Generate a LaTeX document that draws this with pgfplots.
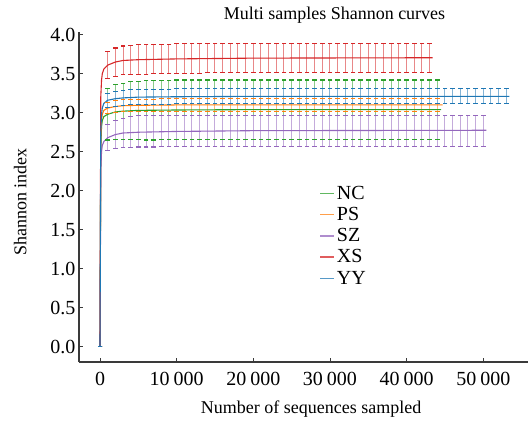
\documentclass[border=0pt]{standalone}
\usepackage{pgfplots}
\usepackage{pgfplotstable}
\pgfplotsset{compat=1.18}
\usepackage{fontspec}
\setmainfont{Liberation Serif}

\definecolor{cNC}{HTML}{2CA02C}
\definecolor{cPS}{HTML}{FF7F0E}
\definecolor{cSZ}{HTML}{9467BD}
\definecolor{cXS}{HTML}{D62728}
\definecolor{cYY}{HTML}{1F77B4}
\definecolor{axisgray}{HTML}{3A3A3A}

% curve values (x = sequences sampled)
\pgfplotstableread{
x y
0 0
100 2.55
200 2.82
300 2.90
500 2.95
1000 2.98
2000 3.01
3000 3.02
5000 3.03
10000 3.035
20000 3.04
44500 3.04
}\curveNC
\pgfplotstableread{
x y
0 0
100 2.65
200 2.90
300 2.98
500 3.03
1000 3.06
2000 3.08
3000 3.09
5000 3.095
10000 3.10
44700 3.10
}\curvePS
\pgfplotstableread{
x y
0 0
100 2.25
200 2.50
300 2.58
500 2.63
1000 2.68
2000 2.72
3000 2.74
5000 2.75
10000 2.76
20000 2.77
50400 2.775
}\curveSZ
\pgfplotstableread{
x y
0 0
100 3.20
200 3.42
300 3.50
500 3.56
1000 3.61
2000 3.65
3000 3.67
5000 3.68
10000 3.69
20000 3.70
43400 3.705
}\curveXS
\pgfplotstableread{
x y
0 0
100 2.75
200 2.98
300 3.06
500 3.12
1000 3.16
2000 3.18
3000 3.19
5000 3.20
10000 3.205
20000 3.21
53400 3.21
}\curveYY

% mean and error at every 1000 sequences
\pgfplotstableread{
x NC NCe PS PSe SZ SZe XS XSe YY YYe
0 0 0 0 0 0 0 0 0 0 0
1000 2.98 0.33 3.06 0.07 2.68 0.17 3.61 0.17 3.16 0.09
2000 3.01 0.35 3.08 0.075 2.72 0.18 3.65 0.18 3.18 0.095
3000 3.02 0.36 3.09 0.08 2.74 0.19 3.67 0.185 3.19 0.095
4000 3.025 0.37 3.095 0.08 2.75 0.20 3.675 0.19 3.20 0.095
5000 3.03 0.37 3.095 0.08 2.76 0.20 3.685 0.19 3.20 0.095
6000 3.03 0.38 3.095 0.08 2.76 0.20 3.685 0.19 3.20 0.095
7000 3.03 0.38 3.095 0.08 2.76 0.20 3.69 0.19 3.20 0.095
8000 3.035 0.38 3.10 0.08 2.765 0.20 3.69 0.19 3.205 0.095
9000 3.035 0.38 3.10 0.08 2.765 0.20 3.69 0.19 3.205 0.095
10000 3.04 0.38 3.10 0.08 2.77 0.20 3.695 0.19 3.21 0.095
11000 3.04 0.38 3.10 0.08 2.77 0.20 3.695 0.19 3.21 0.095
12000 3.04 0.38 3.10 0.08 2.77 0.20 3.695 0.19 3.21 0.095
13000 3.04 0.38 3.10 0.08 2.77 0.20 3.695 0.19 3.21 0.095
14000 3.04 0.38 3.10 0.08 2.77 0.20 3.70 0.19 3.21 0.095
15000 3.04 0.38 3.10 0.08 2.77 0.20 3.70 0.19 3.21 0.095
16000 3.04 0.38 3.10 0.08 2.77 0.20 3.70 0.19 3.21 0.095
17000 3.04 0.38 3.10 0.08 2.77 0.20 3.70 0.19 3.21 0.095
18000 3.04 0.38 3.10 0.08 2.77 0.20 3.70 0.19 3.21 0.095
19000 3.04 0.38 3.10 0.08 2.77 0.20 3.70 0.19 3.21 0.095
20000 3.04 0.38 3.10 0.08 2.77 0.20 3.70 0.19 3.21 0.095
21000 3.04 0.38 3.10 0.08 2.77 0.20 3.70 0.19 3.21 0.095
22000 3.04 0.38 3.10 0.08 2.77 0.20 3.70 0.19 3.21 0.095
23000 3.04 0.38 3.10 0.08 2.77 0.20 3.70 0.19 3.21 0.095
24000 3.04 0.38 3.10 0.08 2.77 0.20 3.70 0.19 3.21 0.095
25000 3.04 0.38 3.10 0.08 2.77 0.20 3.70 0.19 3.21 0.095
26000 3.04 0.38 3.10 0.08 2.77 0.20 3.70 0.19 3.21 0.095
27000 3.04 0.38 3.10 0.08 2.77 0.20 3.70 0.19 3.21 0.095
28000 3.04 0.38 3.10 0.08 2.77 0.20 3.70 0.19 3.21 0.095
29000 3.04 0.38 3.10 0.08 2.77 0.20 3.70 0.19 3.21 0.095
30000 3.04 0.38 3.10 0.08 2.77 0.20 3.70 0.19 3.21 0.095
31000 3.04 0.38 3.10 0.08 2.77 0.20 3.70 0.19 3.21 0.095
32000 3.04 0.38 3.10 0.08 2.77 0.20 3.70 0.19 3.21 0.095
33000 3.04 0.38 3.10 0.08 2.77 0.20 3.70 0.19 3.21 0.095
34000 3.04 0.38 3.10 0.08 2.77 0.20 3.70 0.19 3.21 0.095
35000 3.04 0.38 3.10 0.08 2.77 0.20 3.70 0.19 3.21 0.095
36000 3.04 0.38 3.10 0.08 2.77 0.20 3.70 0.19 3.21 0.095
37000 3.04 0.38 3.10 0.08 2.77 0.20 3.70 0.19 3.21 0.095
38000 3.04 0.38 3.10 0.08 2.77 0.20 3.70 0.19 3.21 0.095
39000 3.04 0.38 3.10 0.08 2.77 0.20 3.70 0.19 3.21 0.095
40000 3.04 0.38 3.10 0.08 2.77 0.20 3.70 0.19 3.21 0.095
41000 3.04 0.38 3.10 0.08 2.77 0.20 3.70 0.19 3.21 0.095
42000 3.04 0.38 3.10 0.08 2.77 0.20 3.70 0.19 3.21 0.095
43000 3.04 0.38 3.10 0.08 2.77 0.20 3.70 0.19 3.21 0.095
44000 3.04 0.38 3.10 0.08 2.77 0.20 nan nan 3.21 0.095
45000 nan nan nan nan 2.77 0.20 nan nan 3.21 0.095
46000 nan nan nan nan 2.77 0.20 nan nan 3.21 0.095
47000 nan nan nan nan 2.77 0.20 nan nan 3.21 0.095
48000 nan nan nan nan 2.77 0.20 nan nan 3.21 0.095
49000 nan nan nan nan 2.77 0.20 nan nan 3.21 0.095
50000 nan nan nan nan 2.77 0.20 nan nan 3.21 0.095
51000 nan nan nan nan nan nan nan nan 3.21 0.095
52000 nan nan nan nan nan nan nan nan 3.21 0.095
53000 nan nan nan nan nan nan nan nan 3.21 0.095
}\errtab

\pgfplotsset{
  errs/.style={forget plot, color=#1, draw=none, mark=none,
    error bars/.cd, y dir=both, y explicit, error mark=none,
    error bar style={draw=#1!55!white, line width=1pt}},
  caps/.style={forget plot, only marks, mark=-, mark size=2.3pt,
    mark options={draw=#1, fill=#1, line width=1.1pt}},
  curve/.style={draw=#1, line width=1.1pt, mark=none},
}

\begin{document}
\begin{tikzpicture}
\begin{axis}[
  at={(0pt,0pt)}, anchor=south west,
  scale only axis, width=449pt, height=330pt,
  xmin=-2740, xmax=55830, ymin=-0.196, ymax=4.035,
  axis x line*=bottom, axis y line*=left,
  axis line style={draw=axisgray, line width=1.2pt},
  tick align=inside, major tick length=4pt,
  tick style={draw=axisgray, line width=0.8pt},
  xtick={0,10000,20000,30000,40000,50000},
  ytick={0,0.5,1,1.5,2,2.5,3,3.5,4},
  scaled x ticks=false,
  /pgf/number format/assume math mode=true,
  xticklabel style={/pgf/number format/1000 sep={\hspace{0.2em}}, yshift=-7pt},
  yticklabel style={/pgf/number format/fixed, /pgf/number format/fixed zerofill, /pgf/number format/precision=1},
  ticklabel style={font=\fontsize{20}{20}\selectfont},
  xlabel={Number of sequences sampled},
  ylabel={Shannon index},
  every axis x label/.style={at={(axis description cs:0.517,-0.142)}, anchor=center,
    font=\fontsize{18}{18}\selectfont},
  every axis y label/.style={at={(axis description cs:-0.131,0.485)}, rotate=90, anchor=center,
    font=\fontsize{18}{18}\selectfont},
  legend style={at={(0.535,0.54)}, anchor=north west, draw=none, fill=none,
    font=\fontsize{20}{20}\selectfont, row sep=2.5pt, inner sep=0pt},
  legend cell align=left,
  clip=false,
]
\addplot[errs=cNC] table[x=x, y=NC, y error=NCe] {\errtab};
\addplot[caps=cNC] table[x=x, y expr=\thisrow{NC}+\thisrow{NCe}] {\errtab};
\addplot[caps=cNC] table[x=x, y expr=\thisrow{NC}-\thisrow{NCe}] {\errtab};
\addplot[errs=cPS] table[x=x, y=PS, y error=PSe] {\errtab};
\addplot[caps=cPS] table[x=x, y expr=\thisrow{PS}+\thisrow{PSe}] {\errtab};
\addplot[caps=cPS] table[x=x, y expr=\thisrow{PS}-\thisrow{PSe}] {\errtab};
\addplot[errs=cSZ] table[x=x, y=SZ, y error=SZe] {\errtab};
\addplot[caps=cSZ] table[x=x, y expr=\thisrow{SZ}+\thisrow{SZe}] {\errtab};
\addplot[caps=cSZ] table[x=x, y expr=\thisrow{SZ}-\thisrow{SZe}] {\errtab};
\addplot[errs=cXS] table[x=x, y=XS, y error=XSe] {\errtab};
\addplot[caps=cXS] table[x=x, y expr=\thisrow{XS}+\thisrow{XSe}] {\errtab};
\addplot[caps=cXS] table[x=x, y expr=\thisrow{XS}-\thisrow{XSe}] {\errtab};
\addplot[errs=cYY] table[x=x, y=YY, y error=YYe] {\errtab};
\addplot[caps=cYY] table[x=x, y expr=\thisrow{YY}+\thisrow{YYe}] {\errtab};
\addplot[caps=cYY] table[x=x, y expr=\thisrow{YY}-\thisrow{YYe}] {\errtab};

\addplot[curve=cNC, forget plot] table {\curveNC};
\addplot[curve=cPS, forget plot] table {\curvePS};
\addplot[curve=cSZ, forget plot] table {\curveSZ};
\addplot[curve=cXS, forget plot] table {\curveXS};
\addplot[curve=cYY, forget plot] table {\curveYY};

\addlegendimage{legend image code/.code={\draw[cNC!75!white, line width=1.5pt] (0pt,0pt) -- (14pt,0pt);}}
\addlegendentry{NC}
\addlegendimage{legend image code/.code={\draw[cPS!75!white, line width=1.5pt] (0pt,0pt) -- (14pt,0pt);}}
\addlegendentry{PS}
\addlegendimage{legend image code/.code={\draw[cSZ!75!white, line width=1.5pt] (0pt,0pt) -- (14pt,0pt);}}
\addlegendentry{SZ}
\addlegendimage{legend image code/.code={\draw[cXS!75!white, line width=1.5pt] (0pt,0pt) -- (14pt,0pt);}}
\addlegendentry{XS}
\addlegendimage{legend image code/.code={\draw[cYY!75!white, line width=1.5pt] (0pt,0pt) -- (14pt,0pt);}}
\addlegendentry{YY}
\end{axis}
\node[font=\fontsize{18}{18}\selectfont] at (255.5pt,347pt) {Multi samples Shannon curves};
\pgfresetboundingbox
\path[use as bounding box] (-79pt,-59pt) rectangle (449pt,362pt);
\end{tikzpicture}
\end{document}
